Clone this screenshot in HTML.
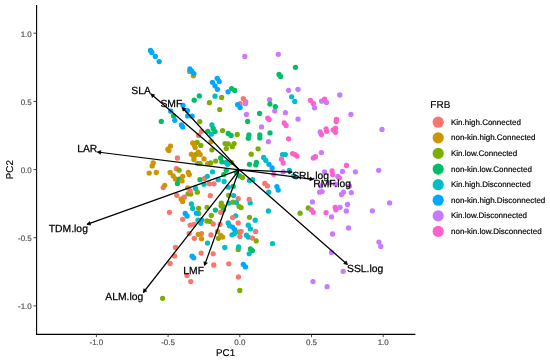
<!DOCTYPE html><html><head><meta charset="utf-8"><style>html,body{margin:0;padding:0;background:#fff}svg{display:block;will-change:transform}text{font-family:"Liberation Sans",Arial,sans-serif;text-rendering:geometricPrecision}</style></head><body>
<svg width="550" height="362" viewBox="0 0 550 362">
<g>
<circle cx="150.5" cy="50.5" r="2.65" fill="#00A9FF"/>
<circle cx="151.8" cy="52.4" r="2.65" fill="#00A9FF"/>
<circle cx="155.3" cy="56.4" r="2.65" fill="#00A9FF"/>
<circle cx="159.2" cy="61.6" r="2.65" fill="#00A9FF"/>
<circle cx="189.6" cy="71.4" r="2.65" fill="#CD9600"/>
<circle cx="193.3" cy="75.8" r="2.65" fill="#CD9600"/>
<circle cx="189.9" cy="68.9" r="2.65" fill="#00A9FF"/>
<circle cx="191.7" cy="71.1" r="2.65" fill="#00A9FF"/>
<circle cx="193.9" cy="73.6" r="2.65" fill="#00A9FF"/>
<circle cx="244.8" cy="56.4" r="2.65" fill="#C77CFF"/>
<circle cx="278.3" cy="54.3" r="2.65" fill="#C77CFF"/>
<circle cx="295.5" cy="67.3" r="2.65" fill="#00BE67"/>
<circle cx="279.0" cy="74.5" r="2.65" fill="#00BE67"/>
<circle cx="280.7" cy="76.4" r="2.65" fill="#00BE67"/>
<circle cx="217.2" cy="78.3" r="2.65" fill="#00A9FF"/>
<circle cx="219.2" cy="81.4" r="2.65" fill="#00A9FF"/>
<circle cx="212.5" cy="82.3" r="2.65" fill="#00A9FF"/>
<circle cx="215.0" cy="85.8" r="2.65" fill="#00A9FF"/>
<circle cx="217.5" cy="89.3" r="2.65" fill="#00A9FF"/>
<circle cx="199.3" cy="95.9" r="2.65" fill="#00BE67"/>
<circle cx="194.2" cy="100.2" r="2.65" fill="#00BE67"/>
<circle cx="183.0" cy="105.3" r="2.65" fill="#00A9FF"/>
<circle cx="187.4" cy="110.6" r="2.65" fill="#00A9FF"/>
<circle cx="187.7" cy="115.9" r="2.65" fill="#00A9FF"/>
<circle cx="192.1" cy="116.2" r="2.65" fill="#00A9FF"/>
<circle cx="173.5" cy="115.9" r="2.65" fill="#00BE67"/>
<circle cx="170.7" cy="111.2" r="2.65" fill="#00A9FF"/>
<circle cx="174.8" cy="120.3" r="2.65" fill="#00A9FF"/>
<circle cx="181.4" cy="125.0" r="2.65" fill="#00A9FF"/>
<circle cx="182.7" cy="126.9" r="2.65" fill="#00A9FF"/>
<circle cx="161.3" cy="121.4" r="2.65" fill="#00BE67"/>
<circle cx="199.8" cy="121.6" r="2.65" fill="#7CAE00"/>
<circle cx="231.6" cy="88.6" r="2.65" fill="#00BE67"/>
<circle cx="234.7" cy="90.5" r="2.65" fill="#00BE67"/>
<circle cx="228.0" cy="91.8" r="2.65" fill="#00A9FF"/>
<circle cx="215.0" cy="96.2" r="2.65" fill="#00BFC4"/>
<circle cx="221.7" cy="97.4" r="2.65" fill="#7CAE00"/>
<circle cx="209.4" cy="102.7" r="2.65" fill="#7CAE00"/>
<circle cx="219.7" cy="109.6" r="2.65" fill="#7CAE00"/>
<circle cx="245.8" cy="101.6" r="2.65" fill="#C77CFF"/>
<circle cx="245.4" cy="103.7" r="2.65" fill="#C77CFF"/>
<circle cx="243.3" cy="98.7" r="2.65" fill="#F8766D"/>
<circle cx="240.1" cy="103.7" r="2.65" fill="#F8766D"/>
<circle cx="237.6" cy="104.6" r="2.65" fill="#00A9FF"/>
<circle cx="240.1" cy="107.5" r="2.65" fill="#00A9FF"/>
<circle cx="246.4" cy="114.4" r="2.65" fill="#C77CFF"/>
<circle cx="247.7" cy="121.4" r="2.65" fill="#00BE67"/>
<circle cx="259.6" cy="113.5" r="2.65" fill="#00BE67"/>
<circle cx="269.6" cy="99.7" r="2.65" fill="#C77CFF"/>
<circle cx="269.9" cy="104.1" r="2.65" fill="#00BE67"/>
<circle cx="267.7" cy="118.1" r="2.65" fill="#FF61CC"/>
<circle cx="269.2" cy="119.6" r="2.65" fill="#FF61CC"/>
<circle cx="261.5" cy="126.9" r="2.65" fill="#C77CFF"/>
<circle cx="211.9" cy="125.0" r="2.65" fill="#00BFC4"/>
<circle cx="288.6" cy="90.3" r="2.65" fill="#C77CFF"/>
<circle cx="298.0" cy="89.3" r="2.65" fill="#C77CFF"/>
<circle cx="291.7" cy="96.8" r="2.65" fill="#00BFC4"/>
<circle cx="294.8" cy="101.4" r="2.65" fill="#00BFC4"/>
<circle cx="274.8" cy="110.9" r="2.65" fill="#C77CFF"/>
<circle cx="275.3" cy="106.6" r="2.65" fill="#00BE67"/>
<circle cx="285.4" cy="112.7" r="2.65" fill="#C77CFF"/>
<circle cx="298.0" cy="119.1" r="2.65" fill="#C77CFF"/>
<circle cx="284.2" cy="122.9" r="2.65" fill="#FF61CC"/>
<circle cx="286.1" cy="125.4" r="2.65" fill="#FF61CC"/>
<circle cx="310.4" cy="100.3" r="2.65" fill="#FF61CC"/>
<circle cx="313.3" cy="103.4" r="2.65" fill="#FF61CC"/>
<circle cx="314.5" cy="107.8" r="2.65" fill="#C77CFF"/>
<circle cx="321.7" cy="101.2" r="2.65" fill="#C77CFF"/>
<circle cx="326.5" cy="102.4" r="2.65" fill="#C77CFF"/>
<circle cx="324.6" cy="99.1" r="2.65" fill="#FF61CC"/>
<circle cx="336.5" cy="119.4" r="2.65" fill="#FF61CC"/>
<circle cx="336.2" cy="121.6" r="2.65" fill="#FF61CC"/>
<circle cx="339.8" cy="95.0" r="2.65" fill="#C77CFF"/>
<circle cx="350.9" cy="114.4" r="2.65" fill="#C77CFF"/>
<circle cx="201.5" cy="131.3" r="2.65" fill="#F8766D"/>
<circle cx="198.6" cy="135.4" r="2.65" fill="#F8766D"/>
<circle cx="197.1" cy="142.3" r="2.65" fill="#7CAE00"/>
<circle cx="200.8" cy="145.4" r="2.65" fill="#7CAE00"/>
<circle cx="192.7" cy="142.9" r="2.65" fill="#CD9600"/>
<circle cx="194.2" cy="145.1" r="2.65" fill="#CD9600"/>
<circle cx="195.2" cy="147.6" r="2.65" fill="#CD9600"/>
<circle cx="170.5" cy="146.1" r="2.65" fill="#CD9600"/>
<circle cx="167.9" cy="149.2" r="2.65" fill="#CD9600"/>
<circle cx="168.9" cy="150.5" r="2.65" fill="#CD9600"/>
<circle cx="195.8" cy="154.6" r="2.65" fill="#7CAE00"/>
<circle cx="191.4" cy="154.2" r="2.65" fill="#CD9600"/>
<circle cx="193.9" cy="156.7" r="2.65" fill="#CD9600"/>
<circle cx="193.9" cy="159.6" r="2.65" fill="#CD9600"/>
<circle cx="198.3" cy="152.1" r="2.65" fill="#CD9600"/>
<circle cx="200.2" cy="154.6" r="2.65" fill="#CD9600"/>
<circle cx="204.0" cy="158.9" r="2.65" fill="#CD9600"/>
<circle cx="177.4" cy="158.0" r="2.65" fill="#F8766D"/>
<circle cx="197.7" cy="163.6" r="2.65" fill="#7CAE00"/>
<circle cx="200.0" cy="163.6" r="2.65" fill="#7CAE00"/>
<circle cx="207.7" cy="163.6" r="2.65" fill="#CD9600"/>
<circle cx="153.2" cy="163.0" r="2.65" fill="#CD9600"/>
<circle cx="152.2" cy="165.9" r="2.65" fill="#CD9600"/>
<circle cx="176.4" cy="168.7" r="2.65" fill="#F8766D"/>
<circle cx="179.1" cy="170.2" r="2.65" fill="#7CAE00"/>
<circle cx="211.3" cy="134.2" r="2.65" fill="#00BFC4"/>
<circle cx="207.8" cy="131.3" r="2.65" fill="#00BE67"/>
<circle cx="213.2" cy="128.5" r="2.65" fill="#00BE67"/>
<circle cx="215.0" cy="131.6" r="2.65" fill="#00BE67"/>
<circle cx="222.6" cy="130.6" r="2.65" fill="#7CAE00"/>
<circle cx="228.2" cy="133.5" r="2.65" fill="#00BE67"/>
<circle cx="231.1" cy="135.4" r="2.65" fill="#00BE67"/>
<circle cx="237.2" cy="134.5" r="2.65" fill="#7CAE00"/>
<circle cx="248.9" cy="135.0" r="2.65" fill="#00BE67"/>
<circle cx="248.3" cy="138.3" r="2.65" fill="#00BE67"/>
<circle cx="259.8" cy="135.0" r="2.65" fill="#00BE67"/>
<circle cx="259.8" cy="137.9" r="2.65" fill="#00BE67"/>
<circle cx="270.0" cy="132.9" r="2.65" fill="#00BE67"/>
<circle cx="268.4" cy="141.7" r="2.65" fill="#C77CFF"/>
<circle cx="211.0" cy="141.7" r="2.65" fill="#CD9600"/>
<circle cx="225.1" cy="143.6" r="2.65" fill="#7CAE00"/>
<circle cx="228.2" cy="143.8" r="2.65" fill="#7CAE00"/>
<circle cx="226.3" cy="148.6" r="2.65" fill="#7CAE00"/>
<circle cx="234.1" cy="143.6" r="2.65" fill="#7CAE00"/>
<circle cx="232.3" cy="146.7" r="2.65" fill="#7CAE00"/>
<circle cx="211.9" cy="149.8" r="2.65" fill="#7CAE00"/>
<circle cx="258.1" cy="148.8" r="2.65" fill="#7CAE00"/>
<circle cx="251.2" cy="154.2" r="2.65" fill="#7CAE00"/>
<circle cx="263.7" cy="157.4" r="2.65" fill="#00BFC4"/>
<circle cx="265.8" cy="160.5" r="2.65" fill="#00BFC4"/>
<circle cx="269.0" cy="164.3" r="2.65" fill="#00A9FF"/>
<circle cx="272.1" cy="168.0" r="2.65" fill="#00A9FF"/>
<circle cx="249.5" cy="164.3" r="2.65" fill="#00BE67"/>
<circle cx="256.4" cy="162.4" r="2.65" fill="#00BE67"/>
<circle cx="255.8" cy="164.9" r="2.65" fill="#00BE67"/>
<circle cx="226.3" cy="162.4" r="2.65" fill="#00BFC4"/>
<circle cx="227.6" cy="164.3" r="2.65" fill="#00BFC4"/>
<circle cx="220.7" cy="158.0" r="2.65" fill="#00BE67"/>
<circle cx="221.9" cy="161.8" r="2.65" fill="#00BE67"/>
<circle cx="215.7" cy="161.1" r="2.65" fill="#7CAE00"/>
<circle cx="210.6" cy="163.0" r="2.65" fill="#7CAE00"/>
<circle cx="231.3" cy="162.4" r="2.65" fill="#7CAE00"/>
<circle cx="288.6" cy="138.8" r="2.65" fill="#FF61CC"/>
<circle cx="320.2" cy="132.0" r="2.65" fill="#C77CFF"/>
<circle cx="321.4" cy="134.5" r="2.65" fill="#FF61CC"/>
<circle cx="326.1" cy="128.8" r="2.65" fill="#FF61CC"/>
<circle cx="326.7" cy="131.3" r="2.65" fill="#FF61CC"/>
<circle cx="333.1" cy="129.8" r="2.65" fill="#FF61CC"/>
<circle cx="335.5" cy="128.3" r="2.65" fill="#FF61CC"/>
<circle cx="335.5" cy="132.3" r="2.65" fill="#FF61CC"/>
<circle cx="321.4" cy="152.6" r="2.65" fill="#C77CFF"/>
<circle cx="313.3" cy="158.0" r="2.65" fill="#FF61CC"/>
<circle cx="315.4" cy="156.7" r="2.65" fill="#FF61CC"/>
<circle cx="292.6" cy="153.6" r="2.65" fill="#FF61CC"/>
<circle cx="295.1" cy="154.6" r="2.65" fill="#FF61CC"/>
<circle cx="297.0" cy="156.1" r="2.65" fill="#FF61CC"/>
<circle cx="282.5" cy="154.6" r="2.65" fill="#00BFC4"/>
<circle cx="285.3" cy="154.6" r="2.65" fill="#00BFC4"/>
<circle cx="281.5" cy="159.2" r="2.65" fill="#FF61CC"/>
<circle cx="283.2" cy="163.0" r="2.65" fill="#FF61CC"/>
<circle cx="382.0" cy="129.4" r="2.65" fill="#C77CFF"/>
<circle cx="346.5" cy="165.5" r="2.65" fill="#FF61CC"/>
<circle cx="149.2" cy="173.1" r="2.65" fill="#CD9600"/>
<circle cx="156.3" cy="172.5" r="2.65" fill="#CD9600"/>
<circle cx="170.1" cy="172.5" r="2.65" fill="#CD9600"/>
<circle cx="173.2" cy="175.9" r="2.65" fill="#CD9600"/>
<circle cx="175.5" cy="179.0" r="2.65" fill="#CD9600"/>
<circle cx="188.3" cy="172.5" r="2.65" fill="#CD9600"/>
<circle cx="189.3" cy="174.6" r="2.65" fill="#CD9600"/>
<circle cx="177.4" cy="183.4" r="2.65" fill="#00BE67"/>
<circle cx="179.3" cy="179.2" r="2.65" fill="#00BE67"/>
<circle cx="182.7" cy="176.3" r="2.65" fill="#CD9600"/>
<circle cx="182.0" cy="180.9" r="2.65" fill="#CD9600"/>
<circle cx="163.2" cy="187.6" r="2.65" fill="#F8766D"/>
<circle cx="164.7" cy="185.3" r="2.65" fill="#CD9600"/>
<circle cx="200.0" cy="179.7" r="2.65" fill="#00BE67"/>
<circle cx="204.6" cy="178.4" r="2.65" fill="#F8766D"/>
<circle cx="204.0" cy="184.3" r="2.65" fill="#00BFC4"/>
<circle cx="195.6" cy="188.4" r="2.65" fill="#00BFC4"/>
<circle cx="187.7" cy="187.8" r="2.65" fill="#CD9600"/>
<circle cx="188.0" cy="193.8" r="2.65" fill="#7CAE00"/>
<circle cx="190.8" cy="194.1" r="2.65" fill="#7CAE00"/>
<circle cx="190.2" cy="191.0" r="2.65" fill="#F8766D"/>
<circle cx="197.3" cy="192.2" r="2.65" fill="#7CAE00"/>
<circle cx="176.8" cy="195.3" r="2.65" fill="#F8766D"/>
<circle cx="184.2" cy="197.2" r="2.65" fill="#F8766D"/>
<circle cx="181.1" cy="199.1" r="2.65" fill="#CD9600"/>
<circle cx="182.7" cy="201.4" r="2.65" fill="#CD9600"/>
<circle cx="191.4" cy="203.9" r="2.65" fill="#00BFC4"/>
<circle cx="192.7" cy="208.5" r="2.65" fill="#00BFC4"/>
<circle cx="198.7" cy="208.3" r="2.65" fill="#7CAE00"/>
<circle cx="207.1" cy="207.3" r="2.65" fill="#7CAE00"/>
<circle cx="169.5" cy="212.3" r="2.65" fill="#F8766D"/>
<circle cx="198.7" cy="213.5" r="2.65" fill="#7CAE00"/>
<circle cx="185.2" cy="213.5" r="2.65" fill="#00A9FF"/>
<circle cx="187.0" cy="216.0" r="2.65" fill="#00A9FF"/>
<circle cx="196.5" cy="213.2" r="2.65" fill="#00A9FF"/>
<circle cx="212.5" cy="171.8" r="2.65" fill="#00BFC4"/>
<circle cx="207.3" cy="176.3" r="2.65" fill="#00BFC4"/>
<circle cx="226.3" cy="170.3" r="2.65" fill="#00BE67"/>
<circle cx="223.8" cy="174.6" r="2.65" fill="#00BE67"/>
<circle cx="236.5" cy="172.4" r="2.65" fill="#00BE67"/>
<circle cx="239.5" cy="175.9" r="2.65" fill="#00BE67"/>
<circle cx="242.4" cy="177.5" r="2.65" fill="#7CAE00"/>
<circle cx="218.2" cy="179.7" r="2.65" fill="#00BFC4"/>
<circle cx="224.1" cy="181.5" r="2.65" fill="#00BFC4"/>
<circle cx="209.4" cy="183.8" r="2.65" fill="#F8766D"/>
<circle cx="214.0" cy="183.8" r="2.65" fill="#F8766D"/>
<circle cx="233.2" cy="186.3" r="2.65" fill="#00BE67"/>
<circle cx="228.2" cy="187.2" r="2.65" fill="#00BFC4"/>
<circle cx="249.5" cy="180.5" r="2.65" fill="#00BFC4"/>
<circle cx="252.7" cy="179.7" r="2.65" fill="#00BFC4"/>
<circle cx="264.8" cy="183.4" r="2.65" fill="#F8766D"/>
<circle cx="267.4" cy="185.9" r="2.65" fill="#F8766D"/>
<circle cx="268.7" cy="192.2" r="2.65" fill="#00BFC4"/>
<circle cx="210.3" cy="195.7" r="2.65" fill="#F8766D"/>
<circle cx="228.6" cy="195.3" r="2.65" fill="#7CAE00"/>
<circle cx="233.6" cy="195.6" r="2.65" fill="#00BFC4"/>
<circle cx="238.2" cy="198.7" r="2.65" fill="#F8766D"/>
<circle cx="250.2" cy="202.9" r="2.65" fill="#00BFC4"/>
<circle cx="249.2" cy="199.4" r="2.65" fill="#F8766D"/>
<circle cx="228.8" cy="203.1" r="2.65" fill="#00BFC4"/>
<circle cx="232.9" cy="202.2" r="2.65" fill="#7CAE00"/>
<circle cx="236.4" cy="202.6" r="2.65" fill="#00BFC4"/>
<circle cx="221.3" cy="203.1" r="2.65" fill="#7CAE00"/>
<circle cx="221.1" cy="206.0" r="2.65" fill="#7CAE00"/>
<circle cx="223.8" cy="206.6" r="2.65" fill="#7CAE00"/>
<circle cx="239.1" cy="206.4" r="2.65" fill="#7CAE00"/>
<circle cx="241.1" cy="207.6" r="2.65" fill="#7CAE00"/>
<circle cx="215.4" cy="210.1" r="2.65" fill="#00BE67"/>
<circle cx="223.6" cy="209.8" r="2.65" fill="#00BE67"/>
<circle cx="220.7" cy="212.3" r="2.65" fill="#F8766D"/>
<circle cx="268.4" cy="211.0" r="2.65" fill="#00BFC4"/>
<circle cx="289.4" cy="170.3" r="2.65" fill="#00BFC4"/>
<circle cx="283.2" cy="171.8" r="2.65" fill="#C77CFF"/>
<circle cx="273.8" cy="174.3" r="2.65" fill="#FF61CC"/>
<circle cx="293.8" cy="175.9" r="2.65" fill="#00BFC4"/>
<circle cx="324.6" cy="171.8" r="2.65" fill="#C77CFF"/>
<circle cx="332.1" cy="170.9" r="2.65" fill="#FF61CC"/>
<circle cx="332.7" cy="174.6" r="2.65" fill="#FF61CC"/>
<circle cx="320.8" cy="185.9" r="2.65" fill="#C77CFF"/>
<circle cx="329.0" cy="182.8" r="2.65" fill="#C77CFF"/>
<circle cx="335.2" cy="184.1" r="2.65" fill="#C77CFF"/>
<circle cx="319.6" cy="192.2" r="2.65" fill="#C77CFF"/>
<circle cx="322.1" cy="191.6" r="2.65" fill="#C77CFF"/>
<circle cx="276.9" cy="186.6" r="2.65" fill="#00A9FF"/>
<circle cx="278.2" cy="190.1" r="2.65" fill="#00A9FF"/>
<circle cx="312.4" cy="201.9" r="2.65" fill="#C77CFF"/>
<circle cx="308.3" cy="207.9" r="2.65" fill="#7CAE00"/>
<circle cx="311.4" cy="209.8" r="2.65" fill="#FF61CC"/>
<circle cx="313.3" cy="212.3" r="2.65" fill="#FF61CC"/>
<circle cx="300.1" cy="213.2" r="2.65" fill="#7CAE00"/>
<circle cx="335.2" cy="207.3" r="2.65" fill="#FF61CC"/>
<circle cx="335.9" cy="209.8" r="2.65" fill="#FF61CC"/>
<circle cx="326.1" cy="212.7" r="2.65" fill="#FF61CC"/>
<circle cx="342.5" cy="171.5" r="2.65" fill="#C77CFF"/>
<circle cx="355.4" cy="171.8" r="2.65" fill="#C77CFF"/>
<circle cx="378.7" cy="170.3" r="2.65" fill="#C77CFF"/>
<circle cx="337.8" cy="176.3" r="2.65" fill="#C77CFF"/>
<circle cx="339.4" cy="178.0" r="2.65" fill="#FF61CC"/>
<circle cx="349.4" cy="185.9" r="2.65" fill="#C77CFF"/>
<circle cx="343.5" cy="192.2" r="2.65" fill="#C77CFF"/>
<circle cx="341.5" cy="194.5" r="2.65" fill="#C77CFF"/>
<circle cx="351.3" cy="192.6" r="2.65" fill="#C77CFF"/>
<circle cx="347.5" cy="204.5" r="2.65" fill="#C77CFF"/>
<circle cx="340.0" cy="207.3" r="2.65" fill="#C77CFF"/>
<circle cx="346.3" cy="211.0" r="2.65" fill="#C77CFF"/>
<circle cx="372.3" cy="210.8" r="2.65" fill="#C77CFF"/>
<circle cx="389.6" cy="202.9" r="2.65" fill="#C77CFF"/>
<circle cx="182.7" cy="219.3" r="2.65" fill="#F8766D"/>
<circle cx="198.0" cy="220.2" r="2.65" fill="#00BFC4"/>
<circle cx="200.8" cy="223.3" r="2.65" fill="#00BFC4"/>
<circle cx="201.7" cy="219.8" r="2.65" fill="#00A9FF"/>
<circle cx="190.2" cy="225.2" r="2.65" fill="#F8766D"/>
<circle cx="193.9" cy="224.3" r="2.65" fill="#F8766D"/>
<circle cx="189.2" cy="233.6" r="2.65" fill="#F8766D"/>
<circle cx="201.5" cy="233.6" r="2.65" fill="#F8766D"/>
<circle cx="198.3" cy="234.3" r="2.65" fill="#CD9600"/>
<circle cx="201.5" cy="238.7" r="2.65" fill="#CD9600"/>
<circle cx="194.3" cy="238.3" r="2.65" fill="#F8766D"/>
<circle cx="175.5" cy="247.5" r="2.65" fill="#F8766D"/>
<circle cx="174.5" cy="255.9" r="2.65" fill="#F8766D"/>
<circle cx="192.1" cy="256.2" r="2.65" fill="#00A9FF"/>
<circle cx="193.7" cy="257.8" r="2.65" fill="#00A9FF"/>
<circle cx="201.1" cy="253.1" r="2.65" fill="#F8766D"/>
<circle cx="211.3" cy="215.5" r="2.65" fill="#7CAE00"/>
<circle cx="206.9" cy="221.0" r="2.65" fill="#7CAE00"/>
<circle cx="210.0" cy="221.4" r="2.65" fill="#7CAE00"/>
<circle cx="213.2" cy="223.9" r="2.65" fill="#F8766D"/>
<circle cx="220.1" cy="224.3" r="2.65" fill="#F8766D"/>
<circle cx="235.7" cy="215.8" r="2.65" fill="#00BFC4"/>
<circle cx="232.6" cy="217.6" r="2.65" fill="#F8766D"/>
<circle cx="249.5" cy="217.3" r="2.65" fill="#7CAE00"/>
<circle cx="255.2" cy="220.2" r="2.65" fill="#00BFC4"/>
<circle cx="238.2" cy="223.0" r="2.65" fill="#F8766D"/>
<circle cx="228.2" cy="223.0" r="2.65" fill="#00BFC4"/>
<circle cx="229.5" cy="225.8" r="2.65" fill="#00BFC4"/>
<circle cx="232.6" cy="227.1" r="2.65" fill="#00A9FF"/>
<circle cx="234.7" cy="229.6" r="2.65" fill="#00A9FF"/>
<circle cx="248.3" cy="225.2" r="2.65" fill="#00BFC4"/>
<circle cx="250.4" cy="228.9" r="2.65" fill="#00BFC4"/>
<circle cx="255.6" cy="231.4" r="2.65" fill="#F8766D"/>
<circle cx="238.9" cy="232.1" r="2.65" fill="#7CAE00"/>
<circle cx="241.1" cy="231.4" r="2.65" fill="#F8766D"/>
<circle cx="232.0" cy="234.8" r="2.65" fill="#00BFC4"/>
<circle cx="234.5" cy="233.6" r="2.65" fill="#00BFC4"/>
<circle cx="239.9" cy="236.5" r="2.65" fill="#F8766D"/>
<circle cx="246.4" cy="235.2" r="2.65" fill="#00BFC4"/>
<circle cx="248.3" cy="237.1" r="2.65" fill="#00BFC4"/>
<circle cx="252.4" cy="238.1" r="2.65" fill="#F8766D"/>
<circle cx="256.2" cy="240.9" r="2.65" fill="#7CAE00"/>
<circle cx="218.5" cy="238.3" r="2.65" fill="#7CAE00"/>
<circle cx="217.5" cy="231.4" r="2.65" fill="#CD9600"/>
<circle cx="220.7" cy="235.3" r="2.65" fill="#CD9600"/>
<circle cx="222.6" cy="237.1" r="2.65" fill="#CD9600"/>
<circle cx="211.0" cy="235.0" r="2.65" fill="#F8766D"/>
<circle cx="207.5" cy="243.1" r="2.65" fill="#00BFC4"/>
<circle cx="224.8" cy="247.5" r="2.65" fill="#00BFC4"/>
<circle cx="238.2" cy="249.4" r="2.65" fill="#7CAE00"/>
<circle cx="238.6" cy="246.9" r="2.65" fill="#00BFC4"/>
<circle cx="249.2" cy="253.8" r="2.65" fill="#00BFC4"/>
<circle cx="250.4" cy="249.0" r="2.65" fill="#00BE67"/>
<circle cx="252.4" cy="250.6" r="2.65" fill="#00BE67"/>
<circle cx="272.5" cy="243.6" r="2.65" fill="#00BFC4"/>
<circle cx="213.2" cy="253.8" r="2.65" fill="#F8766D"/>
<circle cx="331.5" cy="216.8" r="2.65" fill="#C77CFF"/>
<circle cx="332.5" cy="234.0" r="2.65" fill="#C77CFF"/>
<circle cx="331.5" cy="252.4" r="2.65" fill="#C77CFF"/>
<circle cx="348.5" cy="227.9" r="2.65" fill="#C77CFF"/>
<circle cx="378.9" cy="242.1" r="2.65" fill="#C77CFF"/>
<circle cx="380.8" cy="246.5" r="2.65" fill="#C77CFF"/>
<circle cx="170.1" cy="263.5" r="2.65" fill="#F8766D"/>
<circle cx="187.0" cy="275.4" r="2.65" fill="#F8766D"/>
<circle cx="190.8" cy="281.6" r="2.65" fill="#F8766D"/>
<circle cx="162.6" cy="298.3" r="2.65" fill="#7CAE00"/>
<circle cx="213.8" cy="265.0" r="2.65" fill="#F8766D"/>
<circle cx="228.8" cy="263.8" r="2.65" fill="#F8766D"/>
<circle cx="243.3" cy="264.4" r="2.65" fill="#00A9FF"/>
<circle cx="245.4" cy="266.9" r="2.65" fill="#00A9FF"/>
<circle cx="238.4" cy="277.0" r="2.65" fill="#F8766D"/>
<circle cx="239.8" cy="290.5" r="2.65" fill="#7CAE00"/>
<circle cx="313.0" cy="281.6" r="2.65" fill="#C77CFF"/>
<circle cx="327.1" cy="286.7" r="2.65" fill="#C77CFF"/>
<circle cx="343.2" cy="271.3" r="2.65" fill="#C77CFF"/>
</g>
<g stroke="#000" stroke-width="1.25" fill="#000" stroke-linejoin="miter">
<line x1="239.3" y1="169.8" x2="151.0" y2="94.0"/>
<polygon points="151.0,94.0 154.7,94.7 152.3,97.6" stroke-width="0.6"/>
<line x1="239.3" y1="169.8" x2="182.2" y2="107.5"/>
<polygon points="182.2,107.5 185.8,108.6 183.0,111.2" stroke-width="0.6"/>
<line x1="239.3" y1="169.8" x2="97.4" y2="152.0"/>
<polygon points="97.4,152.0 100.9,150.5 100.4,154.3" stroke-width="0.6"/>
<line x1="239.3" y1="169.8" x2="87.0" y2="224.4"/>
<polygon points="87.0,224.4 89.5,221.5 90.7,225.1" stroke-width="0.6"/>
<line x1="239.3" y1="169.8" x2="143.3" y2="292.5"/>
<polygon points="143.3,292.5 143.8,288.7 146.8,291.1" stroke-width="0.6"/>
<line x1="239.3" y1="169.8" x2="204.5" y2="265.4"/>
<polygon points="204.5,265.4 203.8,261.7 207.4,263.0" stroke-width="0.6"/>
<line x1="239.3" y1="169.8" x2="292.2" y2="172.2"/>
<polygon points="292.2,172.2 288.8,173.9 289.0,170.2" stroke-width="0.6"/>
<line x1="239.3" y1="169.8" x2="313.3" y2="179.3"/>
<polygon points="313.3,179.3 309.8,180.8 310.3,177.0" stroke-width="0.6"/>
<line x1="239.3" y1="169.8" x2="347.4" y2="264.5"/>
<polygon points="347.4,264.5 343.7,263.8 346.2,260.9" stroke-width="0.6"/>
</g>
<g font-size="10.35" fill="#000" stroke="#000" stroke-width="0.25">
<text x="150.9" y="94.3" text-anchor="end">SLA</text>
<text x="182.3" y="107.2" text-anchor="end">SMF</text>
<text x="97.3" y="152.3" text-anchor="end">LAR</text>
<text x="87.9" y="232.3" text-anchor="end">TDM.log</text>
<text x="143.3" y="300.1" text-anchor="end">ALM.log</text>
<text x="204.0" y="273.6" text-anchor="end">LMF</text>
<text x="292.2" y="179.4" text-anchor="start">SRL.log</text>
<text x="313.2" y="186.8" text-anchor="start">RMF.log</text>
<text x="347.0" y="271.9" text-anchor="start">SSL.log</text>
</g>
<g stroke="#000" stroke-width="1.1" fill="none"><line x1="36.6" y1="5" x2="36.6" y2="334.95"/><line x1="36.1" y1="334.4" x2="415.4" y2="334.4"/></g>
<g stroke="#333" stroke-width="0.9">
<line x1="96.4" y1="334.6" x2="96.4" y2="337.2"/>
<line x1="33.5" y1="305.9" x2="36.5" y2="305.9"/>
<line x1="168.1" y1="334.6" x2="168.1" y2="337.2"/>
<line x1="33.5" y1="237.7" x2="36.5" y2="237.7"/>
<line x1="239.8" y1="334.6" x2="239.8" y2="337.2"/>
<line x1="33.5" y1="169.6" x2="36.5" y2="169.6"/>
<line x1="311.5" y1="334.6" x2="311.5" y2="337.2"/>
<line x1="33.5" y1="101.4" x2="36.5" y2="101.4"/>
<line x1="383.2" y1="334.6" x2="383.2" y2="337.2"/>
<line x1="33.5" y1="33.2" x2="36.5" y2="33.2"/>
</g>
<g font-size="8" fill="#4D4D4D" stroke="#4D4D4D" stroke-width="0.15">
<text x="96.4" y="345.0" text-anchor="middle">-1.0</text>
<text x="31.8" y="309.2" text-anchor="end">-1.0</text>
<text x="168.1" y="345.0" text-anchor="middle">-0.5</text>
<text x="31.8" y="241.0" text-anchor="end">-0.5</text>
<text x="239.8" y="345.0" text-anchor="middle">0.0</text>
<text x="31.8" y="172.9" text-anchor="end">0.0</text>
<text x="311.5" y="345.0" text-anchor="middle">0.5</text>
<text x="31.8" y="104.7" text-anchor="end">0.5</text>
<text x="383.2" y="345.0" text-anchor="middle">1.0</text>
<text x="31.8" y="36.5" text-anchor="end">1.0</text>
</g>
<text x="225.6" y="355.85" font-size="9.8" text-anchor="middle" fill="#000" stroke="#000" stroke-width="0.15">PC1</text>
<text transform="translate(13.1,169.65) rotate(-90)" font-size="9.8" text-anchor="middle" fill="#000" stroke="#000" stroke-width="0.15">PC2</text>
<text x="430.3" y="108.4" font-size="10" fill="#000" stroke="#000" stroke-width="0.15">FRB</text>
<circle cx="438.2" cy="122.2" r="5.6" fill="#F8766D"/>
<text x="451.0" y="124.80" font-size="8" fill="#000" stroke="#000" stroke-width="0.18">Kin.high.Connected</text>
<circle cx="438.2" cy="137.8" r="5.6" fill="#CD9600"/>
<text x="451.0" y="140.40" font-size="8" fill="#000" stroke="#000" stroke-width="0.18">non-kin.high.Connected</text>
<circle cx="438.2" cy="153.4" r="5.6" fill="#7CAE00"/>
<text x="451.0" y="156.00" font-size="8" fill="#000" stroke="#000" stroke-width="0.18">Kin.low.Connected</text>
<circle cx="438.2" cy="169.1" r="5.6" fill="#00BE67"/>
<text x="451.0" y="171.60" font-size="8" fill="#000" stroke="#000" stroke-width="0.18">non-kin.low.Connected</text>
<circle cx="438.2" cy="184.7" r="5.6" fill="#00BFC4"/>
<text x="451.0" y="187.20" font-size="8" fill="#000" stroke="#000" stroke-width="0.18">Kin.high.Disconnected</text>
<circle cx="438.2" cy="200.2" r="5.6" fill="#00A9FF"/>
<text x="451.0" y="202.80" font-size="8" fill="#000" stroke="#000" stroke-width="0.18">non-kin.high.Disconnected</text>
<circle cx="438.2" cy="215.8" r="5.6" fill="#C77CFF"/>
<text x="451.0" y="218.40" font-size="8" fill="#000" stroke="#000" stroke-width="0.18">Kin.low.Disconnected</text>
<circle cx="438.2" cy="231.4" r="5.6" fill="#FF61CC"/>
<text x="451.0" y="234.00" font-size="8" fill="#000" stroke="#000" stroke-width="0.18">non-kin.low.Disconnected</text>
</svg></body></html>
